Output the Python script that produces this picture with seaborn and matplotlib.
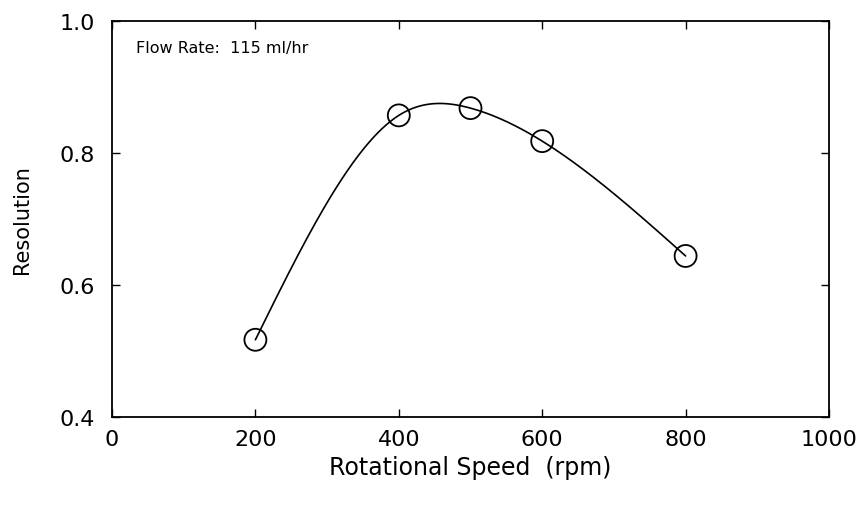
import numpy as np
import pandas as pd
import matplotlib
matplotlib.use("Agg")
import matplotlib.pyplot as plt
import seaborn as sns

speed = [200, 400, 500, 600, 800]
resolution = [0.517, 0.857, 0.868, 0.818, 0.644]
x_ticks = [0, 200, 400, 600, 800, 1000]
y_ticks = [0.4, 0.6, 0.8, 1.0]
annotation = "Flow Rate:  115 ml/hr"


def natural_spline(x, y, xs):
    x = np.asarray(x, float); y = np.asarray(y, float)
    n = len(x)
    h = np.diff(x)
    A = np.zeros((n, n)); b = np.zeros(n)
    A[0, 0] = 1; A[-1, -1] = 1
    for i in range(1, n - 1):
        A[i, i - 1] = h[i - 1]
        A[i, i] = 2 * (h[i - 1] + h[i])
        A[i, i + 1] = h[i]
        b[i] = 3 * ((y[i + 1] - y[i]) / h[i] - (y[i] - y[i - 1]) / h[i - 1])
    c = np.linalg.solve(A, b)
    out = np.empty_like(xs)
    for k, xv in enumerate(xs):
        i = min(max(np.searchsorted(x, xv) - 1, 0), n - 2)
        dx = xv - x[i]
        bi = (y[i + 1] - y[i]) / h[i] - h[i] * (2 * c[i] + c[i + 1]) / 3
        di = (c[i + 1] - c[i]) / (3 * h[i])
        out[k] = y[i] + bi * dx + c[i] * dx ** 2 + di * dx ** 3
    return out


sns.set_theme(style="ticks")
plt.rcParams['font.family'] = ['DejaVu Sans']

fig = plt.figure(figsize=(8.68, 5.06), dpi=100)
ax = fig.add_axes([112 / 868, 1 - 418 / 506, (829 - 112) / 868, (418 - 22) / 506])

xs = np.linspace(min(speed), max(speed), 300)
curve = pd.DataFrame({"x": xs, "y": natural_spline(speed, resolution, xs)})
pts = pd.DataFrame({"x": speed, "y": resolution})

sns.lineplot(data=curve, x="x", y="y", ax=ax, color="black", linewidth=1.2)
sns.scatterplot(data=pts, x="x", y="y", ax=ax, marker="o", s=250,
                facecolor="none", edgecolor="black", linewidth=1.3, zorder=3)

ax.set_xlim(0, 1000)
ax.set_ylim(0.4, 1.0)
ax.set_xticks(x_ticks)
ax.set_yticks(y_ticks)
ax.set_xticklabels([str(t) for t in x_ticks])
ax.set_yticklabels([f"{t:.1f}" for t in y_ticks])
ax.tick_params(direction="in", length=6, width=1, top=True, right=True,
               labelsize=16, colors="black")
ax.tick_params(axis="x", pad=9)
ax.tick_params(axis="y", pad=12)
for s in ax.spines.values():
    s.set_visible(True)
    s.set_linewidth(1.3)
    s.set_color("black")

ax.set_xlabel("Rotational Speed  (rpm)", fontsize=17, labelpad=4, color="black")
ax.set_ylabel("Resolution", fontsize=15, labelpad=20, color="black")
ax.text(0.033, 0.933, annotation, transform=ax.transAxes, fontsize=11.5,
        va="center", color="black")

fig.savefig("out.png", dpi=100)
